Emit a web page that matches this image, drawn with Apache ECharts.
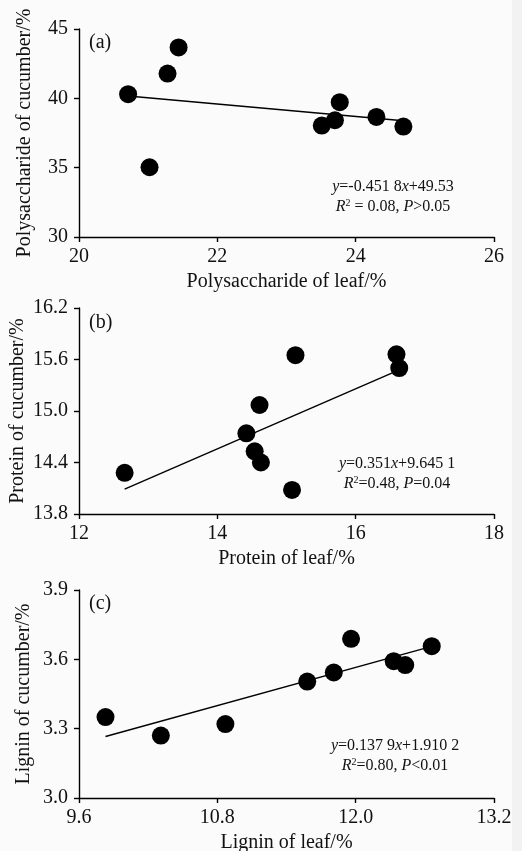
<!DOCTYPE html>
<html><head><meta charset="utf-8">
<script src="https://cdn.jsdelivr.net/npm/echarts@6/dist/echarts.min.js"></script>
<style>html,body{margin:0;padding:0;background:#fbfbfb;} #c{width:522px;height:851px;}</style>
</head><body><div id="c"></div>
<script>
// Panel (a) polysaccharide
const polyLeaf = [20.71, 21.02, 21.28, 21.44, 23.51, 23.70, 23.77, 24.30, 24.69];
const polyCucumber = [40.30, 35.03, 41.79, 43.67, 38.04, 38.42, 39.72, 38.66, 37.96];
const polyFitX = [20.71, 24.69];
const polyFitY = [40.17, 38.38];
const polyXTicks = [20, 22, 24, 26];
const polyYTicks = [30, 35, 40, 45];

// Panel (b) protein
const protLeaf = [12.66, 14.42, 14.54, 14.63, 14.61, 15.08, 15.13, 16.59, 16.63];
const protCucumber = [14.28, 14.74, 14.53, 14.40, 15.07, 14.08, 15.65, 15.66, 15.50];
const protFitX = [12.66, 16.63];
const protFitY = [14.09, 15.48];
const protXTicks = [12, 14, 16, 18];
const protYTicks = [13.8, 14.4, 15.0, 15.6, 16.2];

// Panel (c) lignin
const ligLeaf = [9.83, 10.31, 10.87, 11.58, 11.81, 11.96, 12.33, 12.43, 12.66];
const ligCucumber = [3.35, 3.27, 3.32, 3.504, 3.543, 3.689, 3.592, 3.575, 3.657];
const ligFitX = [9.83, 12.66];
const ligFitY = [3.266, 3.656];
const ligXTicks = [9.6, 10.8, 12.0, 13.2];
const ligYTicks = [3.0, 3.3, 3.6, 3.9];

const FONT = 'Liberation Serif';
const zip = (a, b) => a.map((v, i) => [v, b[i]]);

function xAxis(idx, ticks, name, dec) {
  return {
    type: 'value', gridIndex: idx,
    min: ticks[0], max: ticks[ticks.length - 1],
    interval: +(ticks[1] - ticks[0]).toFixed(4),
    name: name, nameLocation: 'middle', nameGap: 34.5, nameMoveOverlap: false,
    nameTextStyle: { fontFamily: FONT, fontSize: 20, color: '#111' },
    axisLine: { lineStyle: { color: '#000', width: 1.4 } },
    axisTick: { show: true, length: 5, lineStyle: { color: '#000', width: 1.4 } },
    axisLabel: { fontFamily: FONT, fontSize: 20, color: '#111', margin: 10,
      formatter: v => v.toFixed(dec) },
    splitLine: { show: false }
  };
}
function yAxis(idx, ticks, name, dec, gap) {
  return {
    type: 'value', gridIndex: idx,
    min: ticks[0], max: ticks[ticks.length - 1],
    interval: +(ticks[1] - ticks[0]).toFixed(4),
    name: name, nameLocation: 'middle', nameGap: gap, nameMoveOverlap: false,
    nameTextStyle: { fontFamily: FONT, fontSize: 20, color: '#111' },
    axisLine: { show: true, lineStyle: { color: '#000', width: 1.4 } },
    axisTick: { show: true, length: 5, lineStyle: { color: '#000', width: 1.4 } },
    axisLabel: { fontFamily: FONT, fontSize: 20, color: '#111', margin: 11,
      formatter: v => v.toFixed(dec) },
    splitLine: { show: false }
  };
}
function scatter(idx, data) {
  return { type: 'scatter', xAxisIndex: idx, yAxisIndex: idx, data: data,
    symbolSize: 18, itemStyle: { color: '#000', opacity: 1 }, z: 3 };
}
function fit(idx, data) {
  return { type: 'line', xAxisIndex: idx, yAxisIndex: idx, data: data,
    symbol: 'none', lineStyle: { color: '#000', width: 1.4 }, z: 2, silent: true };
}

const rich = {
  i: { fontFamily: FONT, fontSize: 16, fontStyle: 'italic', fill: '#111' },
  n: { fontFamily: FONT, fontSize: 16, fill: '#111' },
  s: { fontFamily: FONT, fontSize: 10, fill: '#111', verticalAlign: 'top', padding: [0, 0, 7, 0] }
};
function note(x, y, lines) {
  return lines.map((t, k) => ({
    type: 'text', x: x, y: y + k * 20,
    style: { text: t, rich: rich, align: 'center', verticalAlign: 'middle',
      fontFamily: FONT, fontSize: 16, fill: '#111' }
  }));
}
function tag(x, y, t) {
  return { type: 'text', x: x, y: y,
    style: { text: t, fontFamily: FONT, fontSize: 20, fill: '#111', align: 'left', verticalAlign: 'middle' } };
}

const chart = echarts.init(document.getElementById('c'), null, { renderer: 'canvas' });
const g = { left: 79, width: 415, containLabel: false, outerBoundsMode: 'none' };
chart.setOption({
  backgroundColor: '#fbfbfb',
  animation: false,
  grid: [
    Object.assign({ top: 29, height: 208 }, g),
    Object.assign({ top: 308, height: 206 }, g),
    Object.assign({ top: 590, height: 208 }, g)
  ],
  xAxis: [
    xAxis(0, polyXTicks, 'Polysaccharide of leaf/%', 0),
    xAxis(1, protXTicks, 'Protein of leaf/%', 0),
    xAxis(2, ligXTicks, 'Lignin of leaf/%', 1)
  ],
  yAxis: [
    yAxis(0, polyYTicks, 'Polysaccharide of cucumber/%', 0, 44),
    yAxis(1, protYTicks, 'Protein of cucumber/%', 1, 51),
    yAxis(2, ligYTicks, 'Lignin of cucumber/%', 1, 45)
  ],
  series: [
    fit(0, zip(polyFitX, polyFitY)), scatter(0, zip(polyLeaf, polyCucumber)),
    fit(1, zip(protFitX, protFitY)), scatter(1, zip(protLeaf, protCucumber)),
    fit(2, zip(ligFitX, ligFitY)), scatter(2, zip(ligLeaf, ligCucumber))
  ],
  graphic: [
    { type: 'rect', shape: { x: 512, y: 0, width: 10, height: 851 }, style: { fill: '#f2f2f2' }, silent: true },
    tag(89, 43, '(a)'), tag(89, 323, '(b)'), tag(89, 604, '(c)'),
    ...note(393, 187, ['{i|y}{n|=-0.451 8}{i|x}{n|+49.53}', '{i|R}{s|2}{n| = 0.08, }{i|P}{n|>0.05}']),
    ...note(397, 464, ['{i|y}{n|=0.351}{i|x}{n|+9.645 1}', '{i|R}{s|2}{n|=0.48, }{i|P}{n|=0.04}']),
    ...note(395, 746, ['{i|y}{n|=0.137 9}{i|x}{n|+1.910 2}', '{i|R}{s|2}{n|=0.80, }{i|P}{n|<0.01}'])
  ]
});
</script>
</body></html>
